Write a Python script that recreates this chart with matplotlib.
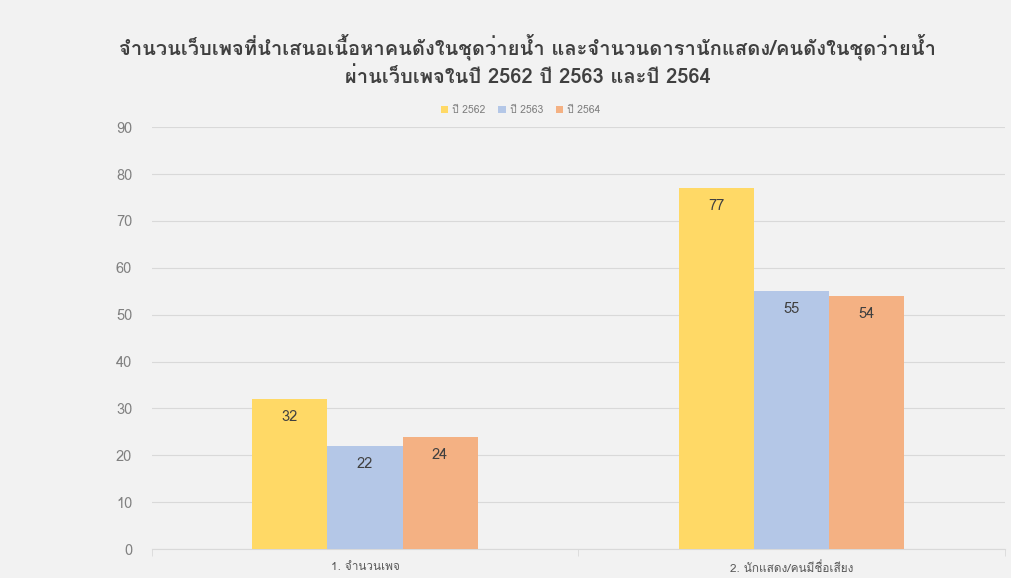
import numpy as np
import matplotlib
matplotlib.use("Agg")
import matplotlib.pyplot as plt
from matplotlib import font_manager
from matplotlib.ft2font import FT2Font

categories = ["1. จำนวนเพจ", "2. นักแสดง/คนมีชื่อเสียง"]
series_names = ["ปี 2562", "ปี 2563", "ปี 2564"]
values_2562 = [32, 77]
values_2563 = [22, 55]
values_2564 = [24, 54]
colors = ["#FFD966", "#B4C7E7", "#F4B183"]
title = ("จำนวนเว็บเพจที่นำเสนอเนื้อหาคนดังในชุดว่ายน้ำ และจำนวนดารานักแสดง/คนดังในชุดว่ายน้ำ\n"
         "ผ่านเว็บเพจในปี 2562 ปี 2563 และปี 2564")


# pick an installed font that has Thai glyphs
def has_thai(path):
    try:
        return 0x0E01 in FT2Font(path).get_charmap()
    except Exception:
        return False

thai_fonts = []
for f in font_manager.fontManager.ttflist:
    if f.name not in thai_fonts and has_thai(f.fname):
        thai_fonts.append(f.name)
plt.rcParams['font.family'] = thai_fonts[:1] + ['DejaVu Sans']

bg = "#F2F2F2"
fig = plt.figure(figsize=(10.11, 5.78), dpi=100, facecolor=bg)
ax = fig.add_axes([0.150, 0.050, 0.844, 0.730], facecolor=bg)

x = np.arange(len(categories))
w = 0.176
all_vals = [values_2562, values_2563, values_2564]
for i, vals in enumerate(all_vals):
    bars = ax.bar(x + (i - 1) * w, vals, width=w, color=colors[i], label=series_names[i], zorder=3)
    for b, v in zip(bars, vals):
        ax.text(b.get_x() + b.get_width() / 2, v - 2.4, str(v), ha="center", va="top",
                fontsize=10.5, color="#404040", zorder=4)

ax.set_xlim(-0.5, 1.5)
ax.set_ylim(0, 90)
ax.set_yticks(range(0, 91, 10))
ax.yaxis.grid(True, color="#D9D9D9", linewidth=0.8, zorder=0)
ax.tick_params(axis="y", length=0, labelsize=10.5, labelcolor="#808080", pad=14)
ax.set_xticks(x)
ax.set_xticklabels(categories)
ax.set_xticks([-0.5, 0.5, 1.5], minor=True)
ax.tick_params(axis="x", which="major", length=0, labelsize=8.5, labelcolor="#595959", pad=9)
ax.tick_params(axis="x", which="minor", length=5, color="#D9D9D9")
for s in ["top", "right", "left"]:
    ax.spines[s].set_visible(False)
ax.spines["bottom"].set_color("#D9D9D9")

fig.text(0.522, 0.895, title, ha="center", va="center", fontsize=14.5, fontweight="bold",
         color="#404040", linespacing=1.45)
fig.legend(loc="center", bbox_to_anchor=(0.515, 0.81), ncol=3, frameon=False, fontsize=7.5,
           handlelength=0.7, handleheight=0.7, handletextpad=0.4, columnspacing=1.2,
           labelcolor="#808080")

fig.savefig("out.png", dpi=100, facecolor=bg)
